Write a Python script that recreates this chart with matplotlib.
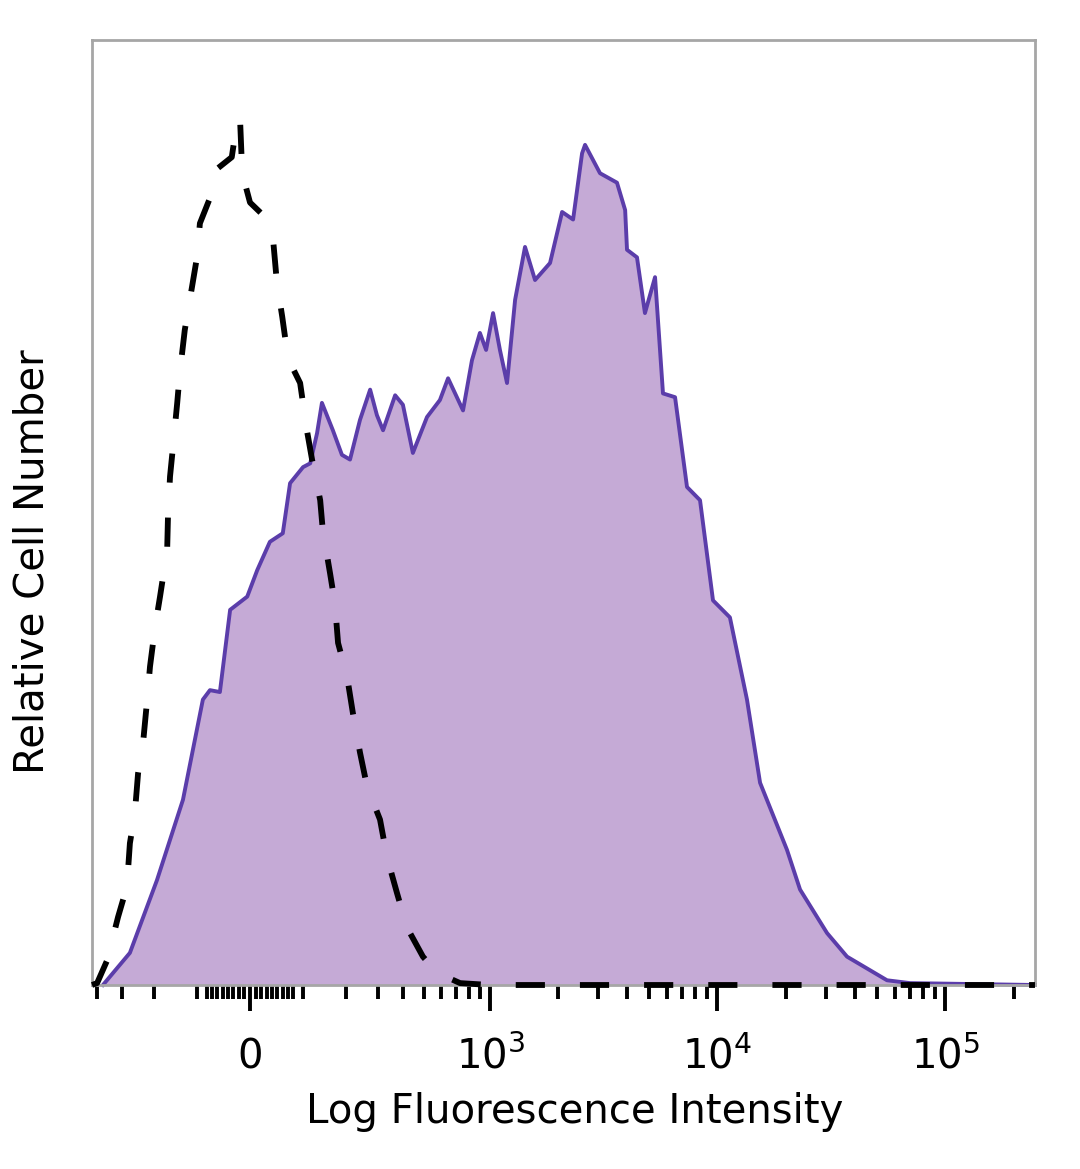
import numpy as np
import matplotlib
matplotlib.use("Agg")
import matplotlib.pyplot as plt

# biexponential-like display: arcsinh with cofactor
COF = 178.0

# stained sample (filled purple)
stained_x = [-373, -273, -193, -130, -88, -74, -55, -36, -5, 13, 36, 60, 74, 100, 115,
             130, 141, 167, 190, 212, 241, 273, 296, 318, 365, 398, 444, 517, 593, 646,
             755, 828, 899, 958, 1029, 1104, 1187, 1289, 1426, 1579, 1839, 2078, 2323,
             2544, 2622, 3051, 3622, 3934, 4009, 4434, 4806, 5322, 5767, 6515, 7351,
             8384, 9559, 11339, 13475, 15379, 20185, 23033, 30242, 37018, 55447, 69954,
             247100]
stained_y = [0, 3.4, 11.1, 19.6, 30.2, 31.2, 31.0, 39.7, 41.1, 43.9, 46.9, 47.8, 53.1, 54.8,
             55.2, 58.4, 61.6, 58.7, 56.1, 55.6, 59.8, 63.0, 60.3, 58.7, 62.4, 61.4, 56.3,
             60.1, 61.9, 64.2, 60.8, 66.1, 69.0, 67.2, 71.1, 67.2, 63.7, 72.5, 78.1, 74.6,
             76.4, 81.8, 81.0, 88.0, 88.9, 85.9, 84.9, 82.0, 77.8, 77.0, 71.1, 74.9, 62.6,
             62.2, 52.7, 51.3, 40.7, 38.9, 30.2, 21.4, 14.3, 10.1, 5.5, 3.0, 0.5, 0.2, 0]

# isotype control (dashed)
control_x = [-421, -398, -356, -314, -283, -273, -257, -247, -232, -220, -212, -198, -185,
             -167, -165, -160, -153, -143, -137, -126, -115, -100, -94, -68, -64, -33, -23,
             -18, -14, 0, 23, 42, 49, 59, 70, 94, 108, 119, 137, 143, 160, 172, 180, 204,
             220, 241, 263, 307, 333, 373, 416, 495, 575, 732, 997, 247100]
control_y = [0, 0.2, 2.6, 7.2, 10.4, 15.0, 18.2, 22.4, 25.6, 30.2, 33.7, 37.9, 41.1, 46.0,
             49.5, 53.8, 56.9, 61.6, 64.8, 69.3, 72.5, 77.0, 80.6, 84.1, 86.2, 87.6, 91.5,
             91.7, 85.9, 82.8, 81.5, 78.8, 74.3, 70.7, 66.3, 63.7, 58.7, 55.6, 51.3, 48.1,
             43.6, 40.4, 36.2, 32.6, 28.8, 24.6, 21.0, 17.5, 13.5, 9.7, 6.1, 3.0, 1.3,
             0.2, 0, 0]

major_ticks = [0, 1e3, 1e4, 1e5]
major_labels = ["0", "$10^3$", "$10^4$", "$10^5$"]
minor_ticks = ([-400, -300, -200, -100] + list(range(-80, 90, 10)) +
               list(range(100, 1000, 100)) + list(range(2000, 10000, 1000)) +
               list(range(20000, 100000, 10000)) + [200000])

fig = plt.figure(figsize=(10.8, 11.69), dpi=100)
ax = fig.add_axes([0.0852, 0.1574, 0.8731, 0.8084])

ax.set_xscale("function", functions=(lambda v: np.arcsinh(np.asarray(v) / COF),
                                      lambda v: COF * np.sinh(np.asarray(v))))

ax.fill_between(stained_x, stained_y, 0, color="#c5aad6", lw=0, zorder=1)
ax.plot(stained_x, stained_y, color="#5b3daa", lw=2.8, zorder=2, clip_on=False)
ax.plot(control_x, control_y, color="black", lw=4.2, dashes=(5, 6),
        zorder=3, clip_on=False)

ax.set_xlim(-421, 247100)
ax.set_ylim(0, 100)

ax.set_xticks(major_ticks)
ax.set_xticklabels(major_labels)
ax.set_xticks(minor_ticks, minor=True)
ax.set_yticks([])
ax.tick_params(axis="x", which="major", direction="out", length=19, width=2.8,
               color="black", labelsize=29, pad=41)
ax.tick_params(axis="x", which="minor", direction="out", length=10, width=2.8,
               color="black")
for lab in ax.get_xticklabels():
    lab.set_verticalalignment("baseline")

for s in ax.spines.values():
    s.set_color("#a6a6a6")
    s.set_linewidth(2)

ax.set_xlabel("Log Fluorescence Intensity", fontsize=29)
ax.xaxis.set_label_coords(0.512, -0.134)
ax.xaxis.label.set_verticalalignment("center")
ax.set_ylabel("Relative Cell Number", fontsize=29)
ax.yaxis.set_label_coords(-0.0626, 0.448)
ax.yaxis.label.set_verticalalignment("center")

fig.savefig("out.png", dpi=100)
